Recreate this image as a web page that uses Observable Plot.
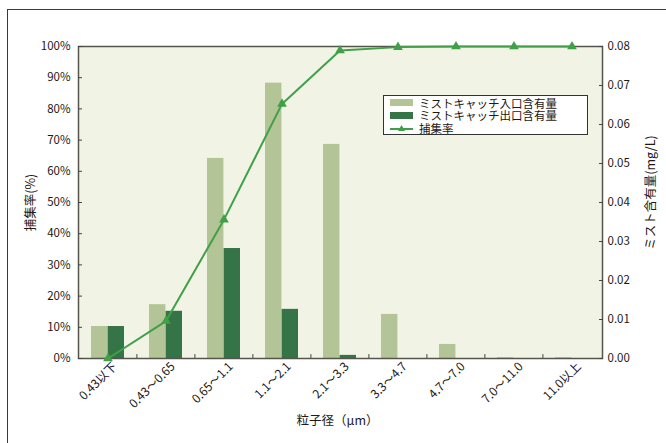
<!DOCTYPE html>
<html>
<head>
<meta charset="utf-8">
<script src="https://cdn.jsdelivr.net/npm/d3@7"></script>
<script src="https://cdn.jsdelivr.net/npm/@observablehq/plot@0.6"></script>
<style>
  body { margin: 0; background: #fff; font-family: "Noto Sans CJK JP", "Noto Sans", sans-serif; }
  #wrap { position: relative; width: 666px; height: 443px; overflow: hidden; }
  #outer { position: absolute; left: 7px; top: 9px; right: -2px; bottom: -2px; border-top: 1.5px solid #3a3a3a; border-left: 1.5px solid #3a3a3a; }
  #legend { position: absolute; left: 383px; top: 95px; width: 205px; height: 40px; box-sizing: border-box; border: 1.5px solid #333; background: #fff; font-size: 11.5px; color: #231815; padding-top: 0.5px; }
  #legend .row { display: flex; align-items: center; height: 12.8px; overflow: visible; }
  #legend .row span { display: block; height: 12.8px; line-height: 12.8px; white-space: nowrap; overflow: visible; }
  #legend .sw { width: 23px; height: 7px; margin: 0 6px 0 6px; flex: none; }
  #legend svg { margin: 0 6px 0 6px; flex: none; }
</style>
</head>
<body>
<div id="wrap">
  <div id="outer"></div>
  <div id="chart"></div>
  <div id="legend"></div>
</div>
<script>
const categories = ["0.43以下", "0.43～0.65", "0.65～1.1", "1.1～2.1", "2.1～3.3", "3.3～4.7", "4.7～7.0", "7.0～11.0", "11.0以上"];
const inlet  = [0.0082, 0.0138, 0.0513, 0.0706, 0.0549, 0.0113, 0.0036, 0.0002, 0.0002];
const outlet = [0.0082, 0.0121, 0.0282, 0.0126, 0.0008, 0, 0, 0, 0];
const captureRate = [0, 12, 44.5, 81.6, 98.7, 99.8, 100, 100, 100];
const pctTicks = [0, 10, 20, 30, 40, 50, 60, 70, 80, 90, 100];
const mgTicks = [0, 0.01, 0.02, 0.03, 0.04, 0.05, 0.06, 0.07, 0.08];
const seriesNames = ["ミストキャッチ入口含有量", "ミストキャッチ出口含有量", "捕集率"];

const yMax = 0.08;
const colLight = "#b3c497", colDark = "#347446", colLine = "#40a048";
const textCol = "#231815";
const rows = categories.map((c, i) => ({cat: c, inlet: inlet[i], outlet: outlet[i], rate: captureRate[i]}));

const W = 666, H = 443, mL = 78, mR = 64, mT = 46, mB = 85;
const step = (W - mL - mR) / categories.length;
const halfBar = step * 0.57 / 2;

const chart = Plot.plot({
  width: W, height: H,
  marginLeft: mL, marginRight: mR, marginTop: mT, marginBottom: mB,
  style: {fontFamily: "'Noto Sans CJK JP', 'Noto Sans', sans-serif", fontSize: "11px", color: textCol, background: "transparent"},
  x: {type: "band", domain: categories, paddingInner: 0.43, paddingOuter: 0.215, axis: null},
  y: {domain: [0, yMax], axis: null},
  marks: [
    Plot.frame({fill: "#f1f3e4", stroke: null}),
    Plot.barY(rows, {x: "cat", y: "inlet", fill: colLight, insetRight: halfBar}),
    Plot.barY(rows, {x: "cat", y: "outlet", fill: colDark, insetLeft: halfBar}),
    Plot.ruleX(categories.slice(1), {x: d => d, dx: -step / 2, y1: 0, y2: 0.001, stroke: "#444", strokeWidth: 1}),
    Plot.frame({stroke: "#55554d", strokeWidth: 1.5}),
    // left axis: inner ticks + labels
    Plot.axisY(pctTicks.map(p => p / 100 * yMax), {anchor: "left", tickSize: 4, dx: 4, tickFormat: () => "", stroke: "#444", label: null}),
    Plot.axisY(pctTicks.map(p => p / 100 * yMax), {anchor: "left", tickSize: 0, tickPadding: 8, tickFormat: v => Math.round(v / yMax * 100) + "%", fill: textCol, fontSize: 11.5, label: null}),
    // right axis
    Plot.axisY(mgTicks, {anchor: "right", tickSize: 4, dx: -4, tickFormat: () => "", stroke: "#444", label: null}),
    Plot.axisY(mgTicks, {anchor: "right", tickSize: 0, tickPadding: 5, tickFormat: d3.format(".2f"), fill: textCol, fontSize: 11.5, label: null}),
    // x axis labels
    Plot.axisX(categories, {anchor: "bottom", tickSize: 0, tickPadding: 6, tickRotate: -45, dx: 7, fill: textCol, fontSize: 12, label: null}),
    // line
    Plot.line(rows, {x: "cat", y: d => d.rate / 100 * yMax, stroke: colLine, strokeWidth: 2}),
    Plot.dot(rows, {x: "cat", y: d => d.rate / 100 * yMax, symbol: "triangle", r: 3.6, fill: colLine, stroke: null}),
    // axis titles
    Plot.text(["捕集率(%)"], {frameAnchor: "left", textAnchor: "middle", dx: -48, rotate: -90, fontSize: 12.5, fill: textCol}),
    Plot.text(["ミスト含有量(mg/L)"], {frameAnchor: "right", textAnchor: "middle", dx: 48, dy: -10, rotate: -90, fontSize: 12.5, fill: textCol}),
    Plot.text(["粒子径（μm）"], {frameAnchor: "bottom", dy: 66, dx: -3, fontSize: 12.5, fill: textCol})
  ]
});
document.getElementById("chart").appendChild(chart);

// legend
const lg = document.getElementById("legend");
const swatches = [
  `<div class="sw" style="background:${colLight}"></div>`,
  `<div class="sw" style="background:${colDark}"></div>`,
  `<svg width="23" height="9"><line x1="0" y1="5" x2="23" y2="5" stroke="${colLine}" stroke-width="2"/><path d="M11.5,1 L15,7 L8,7 Z" fill="${colLine}"/></svg>`
];
seriesNames.forEach((n, i) => {
  const r = document.createElement("div");
  r.className = "row";
  r.innerHTML = swatches[i] + `<span>${n}</span>`;
  lg.appendChild(r);
});
</script>
</body>
</html>
